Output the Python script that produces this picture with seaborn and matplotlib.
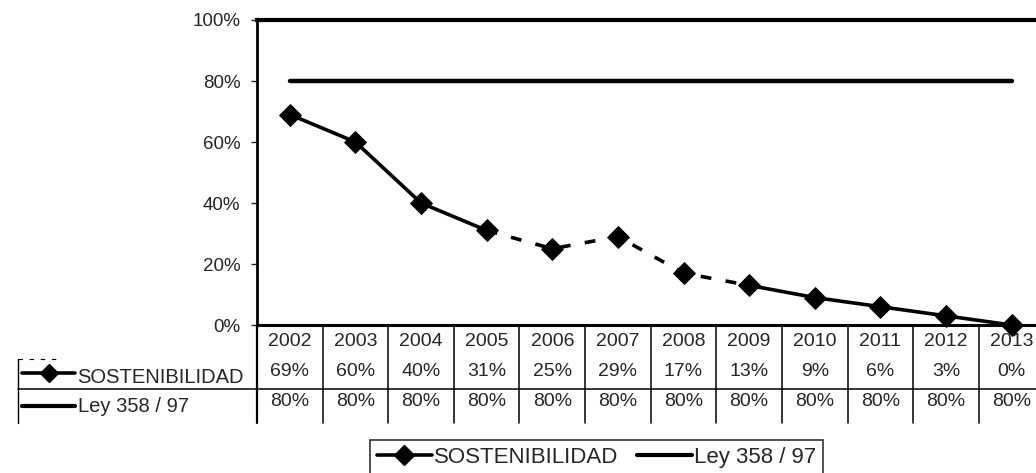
import matplotlib
matplotlib.use("Agg")
import matplotlib.pyplot as plt
import matplotlib.transforms as mtransforms
from matplotlib.lines import Line2D
from matplotlib.ticker import PercentFormatter
import seaborn as sns
import pandas as pd

years = [2002, 2003, 2004, 2005, 2006, 2007, 2008, 2009, 2010, 2011, 2012, 2013]
sostenibilidad = [69, 60, 40, 31, 25, 29, 17, 13, 9, 6, 3, 0]
ley = [80, 80, 80, 80, 80, 80, 80, 80, 80, 80, 80, 80]
series_names = ["SOSTENIBILIDAD", "Ley 358 / 97"]

sns.set_style("white")
plt.rcParams["font.family"] = ["Liberation Sans", "DejaVu Sans"]

W, H = 1036, 473
fig = plt.figure(figsize=(W / 100, H / 100), dpi=100)

# pixel helpers (figure coords)
def fx(px):
    return px / W

def fy(py):
    return 1 - py / H

ax = fig.add_axes([fx(257), fy(325), fx(1036) - fx(257), fy(20) - fy(325)])

df = pd.DataFrame({"pos": range(len(years)), "year": years,
                   "sost": [v / 100 for v in sostenibilidad],
                   "ley": [v / 100 for v in ley]})

# Ley line
sns.lineplot(data=df, x="pos", y="ley", ax=ax, color="black", linewidth=3.2,
             solid_capstyle="round")
# sostenibilidad: solid / dashed (scan look) / solid
solid1 = df[df.year <= 2005]
dashed = df[(df.year >= 2005) & (df.year <= 2009)]
solid2 = df[df.year >= 2009]
sns.lineplot(data=solid1, x="pos", y="sost", ax=ax, color="black", linewidth=2.6)
sns.lineplot(data=dashed, x="pos", y="sost", ax=ax, color="black", linewidth=2.6,
             dashes=False, linestyle=(0, (3, 4)))
sns.lineplot(data=solid2, x="pos", y="sost", ax=ax, color="black", linewidth=2.6)
sns.scatterplot(data=df, x="pos", y="sost", ax=ax, color="black", marker="D",
                s=120, edgecolor="black", zorder=5, clip_on=False)

ax.set_xlim(-0.5, (1036 - 290) / 65.6)
ax.set_ylim(0, 1)
ax.set_yticks([0, 0.2, 0.4, 0.6, 0.8, 1.0])
ax.yaxis.set_major_formatter(PercentFormatter(1.0, decimals=0))
ax.tick_params(axis="y", labelsize=13.5, length=4, width=1, left=True, pad=8)
ax.set_xticks([])
ax.set_xlabel("")
ax.set_ylabel("")
for side in ["left", "top", "bottom"]:
    ax.spines[side].set_visible(True)
    ax.spines[side].set_color("black")
ax.spines["left"].set_linewidth(2)
ax.spines["top"].set_linewidth(3)
ax.spines["bottom"].set_linewidth(2.2)
ax.spines["right"].set_visible(False)

# data table under the axis
trans = mtransforms.blended_transform_factory(ax.transData, fig.transFigure)
for i, yr in enumerate(years):
    ax.text(i, fy(342), str(yr), transform=trans, ha="center", va="center",
            fontsize=14)
    ax.text(i, fy(371), f"{sostenibilidad[i]}%", transform=trans, ha="center",
            va="center", fontsize=14)
    ax.text(i, fy(402), f"{ley[i]}%", transform=trans, ha="center",
            va="center", fontsize=14)
for k in range(len(years) + 1):
    ax.add_line(Line2D([k - 0.5, k - 0.5], [fy(325), fy(423)], transform=trans,
                       color="black", linewidth=1.6 if k == 0 else 1.1,
                       clip_on=False))
ax.add_line(Line2D([-0.5, 12], [fy(389), fy(389)], transform=trans,
                   color="black", linewidth=1.1, clip_on=False))

# left label box of the table
fig.add_artist(Line2D([fx(18), fx(18)], [fy(359), fy(423)], color="black", linewidth=1))
fig.add_artist(Line2D([fx(18), fx(257)], [fy(389), fy(389)], color="black", linewidth=1.1))
fig.add_artist(Line2D([fx(18), fx(60)], [fy(359), fy(359)], color="black", linewidth=0.8,
                      linestyle=(0, (4, 6))))
fig.add_artist(Line2D([fx(22), fx(49), fx(75)], [fy(373)] * 3, color="black",
                      linewidth=2.6, marker="D", markersize=9, markevery=[1]))
fig.add_artist(Line2D([fx(22), fx(75)], [fy(406), fy(406)], color="black", linewidth=3))
fig.text(fx(77), fy(377), series_names[0], ha="left", va="center", fontsize=14.5)
fig.text(fx(78), fy(406), series_names[1], ha="left", va="center", fontsize=14.5)

# legend at the bottom
handles = [Line2D([], [], color="black", linewidth=2.6, marker="D", markersize=10),
           Line2D([], [], color="black", linewidth=3)]
leg = fig.legend(handles, series_names, loc="upper left", ncol=2,
                 bbox_to_anchor=(fx(370), fy(440)), frameon=True, fancybox=False,
                 fontsize=16, handlelength=2.5, handletextpad=0.1,
                 columnspacing=0.8, borderpad=0.3, borderaxespad=0)
leg.get_frame().set_edgecolor("black")
leg.get_frame().set_linewidth(1.2)

fig.savefig("out.png", dpi=100, facecolor="white")
